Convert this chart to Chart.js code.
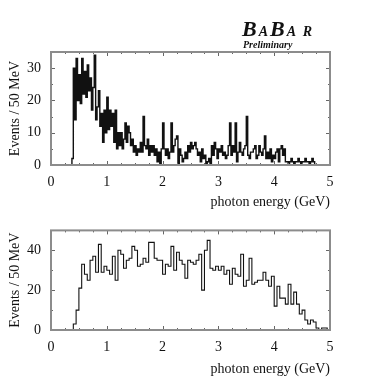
<!DOCTYPE html>
<html><head><meta charset="utf-8">
<script src="https://cdn.jsdelivr.net/npm/chart.js@4/dist/chart.umd.min.js"></script>
<style>
html,body{margin:0;padding:0;background:#fff;}
#wrap{position:relative;width:382px;height:382px;overflow:hidden;background:#fff;}
canvas{position:absolute;left:0;}
#c1{top:0;}
#c2{top:212px;}
#logo{position:absolute;left:242px;top:16px;font-family:"Liberation Serif",serif;font-weight:bold;font-style:italic;color:#111;letter-spacing:2px;white-space:nowrap;}
#prelim{position:absolute;left:243px;top:39px;font-family:"Liberation Serif",serif;font-weight:bold;font-style:italic;font-size:10px;color:#111;white-space:nowrap;}
</style></head><body>
<div id="wrap">
<canvas id="c1" width="382" height="212"></canvas>
<canvas id="c2" width="382" height="170"></canvas>
<div id="logo"><span style="font-size:22px">B</span><span style="font-size:14px">A</span><span style="font-size:22px">B</span><span style="font-size:14px">A R</span></div>
<div id="prelim">Preliminary</div>
</div>
<script>
// ---- data ----
const xTicks = [0, 1, 2, 3, 4, 5];
const xTitle = "photon energy (GeV)";
const yTitle = "Events / 50 MeV";
const topBinWidth = 0.025;   // GeV
const topCounts = [
  0,0,0,0,0,0,0,0,
  0,0,0,0,0,0,0,2,
  30,14,33,20,28,19,33,22,
  29,21,31,23,27,17,24,34,
  14,18,23,12,16,7,17,10,
  21,11,17,12,16,7,17,5,
  10,6,10,5,8,13,7,12,
  10,6,8,4,6,3,5,4,
  7,4,15,6,5,8,3,6,
  4,6,3,5,1,4,0,5,
  13,5,3,5,2,4,13,4,
  6,8,9,0,5,3,1,2,
  4,2,6,4,7,5,6,7,
  5,3,4,1,5,2,3,0,
  1,2,0,6,3,7,5,2,
  5,4,6,3,4,2,3,6,
  13,3,6,4,13,1,4,7,
  4,3,5,6,15,3,2,4,
  4,5,6,2,3,6,4,3,
  5,9,2,4,2,5,1,3,
  2,4,5,1,5,6,3,5,
  1,1,0,1,2,1,0,1,
  1,2,1,0,1,1,2,1,
  1,0,1,2,1,0,0,0,
  0,0,0,0,0,0,0,0
];
const bottomBinWidth = 0.05; // GeV
const bottomCounts = [
  0,0,0,0,0,0,0,0,3,10,
  21,33,28,25,35,37,29,43,29,32,
  30,28,37,25,40,38,31,35,36,42,
  40,32,33,36,34,44,44,36,35,35,
  28,33,32,42,30,39,35,33,26,35,
  34,33,35,38,20,40,45,31,30,32,
  30,32,28,30,23,31,28,27,38,22,
  25,36,23,24,25,25,29,25,22,27,
  12,22,16,16,13,23,13,19,13,8,
  10,5,3,5,4,1,0,1,1,0
];
const topYMax = 35, topYStep = 10;
const bottomYMax = 50, bottomYStep = 20;

// ---- helpers ----
function histPoints(counts, w) {
  const pts = counts.map((c, i) => ({x: +(i * w).toFixed(4), y: c}));
  pts.push({x: +(counts.length * w).toFixed(4), y: counts[counts.length - 1]});
  return pts;
}
const serif = '"Liberation Serif", "Times New Roman", serif';

const framePlugin = {
  id: 'frame',
  afterDatasetsDraw(chart) {
    const {ctx, chartArea: {left, right, top, bottom}, scales: {x, y}} = chart;
    ctx.save();
    ctx.strokeStyle = '#666';
    ctx.lineWidth = 1;
    ctx.beginPath();
    for (let v = 0; v <= 5.0001; v += 0.25) {
      const px = Math.round(x.getPixelForValue(v)) + 0.5;
      const len = Math.abs(v - Math.round(v)) < 1e-6 ? 4 : 2;
      ctx.moveTo(px, top); ctx.lineTo(px, top + len);
      ctx.moveTo(px, bottom); ctx.lineTo(px, bottom - len);
    }
    const st = chart.options.scales.y.ticks.stepSize;
    for (let v = 0; v <= y.max + 1e-6; v += st / 2) {
      const py = Math.round(y.getPixelForValue(v)) + 0.5;
      const len = Math.abs((v / st) - Math.round(v / st)) < 1e-6 ? 4 : 2;
      ctx.moveTo(right, py); ctx.lineTo(right - len, py);
      ctx.moveTo(left, py); ctx.lineTo(left + len, py);
    }
    ctx.stroke();
    ctx.strokeStyle = '#8c8c8c';
    ctx.lineWidth = 2;
    ctx.strokeRect(left, top, right - left, bottom - top);
    ctx.restore();
  }
};

function makeChart(id, counts, w, ymax, ystep, padTop, xAxisH, xTitlePadBottom, lw) {
  return new Chart(document.getElementById(id), {
    type: 'line',
    data: {
      datasets: [{
        data: histPoints(counts, w),
        stepped: true,
        borderColor: '#111',
        borderWidth: lw,
        pointRadius: 0,
        fill: false,
        tension: 0
      }]
    },
    options: {
      responsive: false,
      animation: false,
      events: [],
      layout: {padding: {left: 0, right: 52, top: padTop, bottom: 0}},
      plugins: {legend: {display: false}, tooltip: {enabled: false}},
      scales: {
        x: {
          type: 'linear', min: 0, max: 5,
          afterBuildTicks: s => { s.ticks = xTicks.map(v => ({value: v})); },
          afterFit: s => { s.height = xAxisH; },
          grid: {display: false, drawTicks: false},
          border: {display: false},
          ticks: {color: '#111', font: {family: serif, size: 14}, padding: 9, maxRotation: 0},
          title: {display: true, text: xTitle, align: 'end', color: '#111',
                  font: {family: serif, size: 14}, padding: {top: 0, bottom: xTitlePadBottom}}
        },
        y: {
          min: 0, max: ymax,
          afterFit: s => { s.width = 51; },
          grid: {display: false, drawTicks: false},
          border: {display: false},
          ticks: {stepSize: ystep, includeBounds: false, color: '#111',
                  font: {family: serif, size: 14}, padding: 10},
          title: {display: true, text: yTitle, color: '#111',
                  font: {family: serif, size: 14}, padding: {top: 7, bottom: 0}}
        }
      }
    },
    plugins: [framePlugin]
  });
}

makeChart('c1', topCounts, topBinWidth, topYMax, topYStep, 52, 47, 1, 1.4);
makeChart('c2', bottomCounts, bottomBinWidth, bottomYMax, bottomYStep, 5, 52, 4, 1.1);
</script>
</body></html>
